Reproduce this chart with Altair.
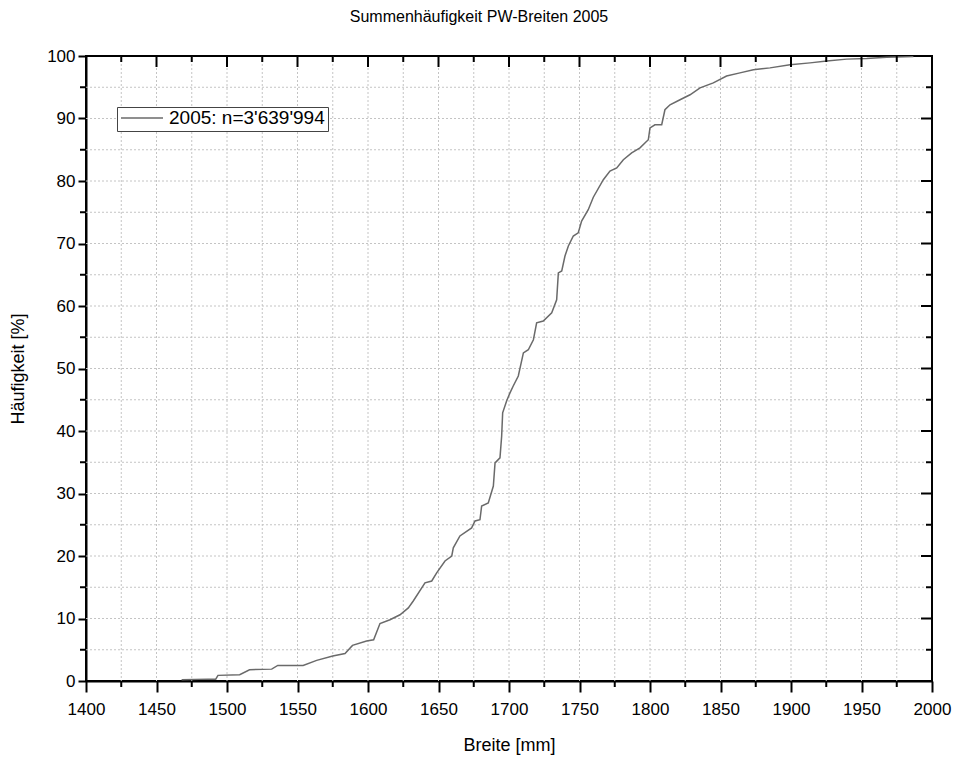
import altair as alt
import pandas as pd

# Cumulative frequency of passenger-car widths (2005)
breite = [
    1467.8, 1486.5, 1492.0, 1493.6, 1509.0, 1516.0, 1531.7, 1536.0, 1554.0, 1563.6,
    1575.0, 1583.7, 1589.0, 1599.0, 1604.0, 1608.5, 1615.6, 1622.7, 1628.6, 1632.1,
    1640.4, 1645.2, 1648.7, 1654.6, 1659.4, 1660.5, 1665.2, 1673.5, 1675.9, 1679.4,
    1680.6, 1685.3, 1688.9, 1690.1, 1693.6, 1694.8, 1695.5, 1698.3, 1700.7, 1703.0,
    1706.6, 1710.2, 1713.7, 1717.3, 1719.6, 1724.3, 1730.3, 1733.8, 1735.0, 1737.4,
    1739.7, 1742.1, 1745.6, 1749.1, 1751.5, 1756.2, 1759.8, 1766.9, 1771.6, 1776.4,
    1781.1, 1787.0, 1792.9, 1798.8, 1800.0, 1803.5, 1808.3, 1810.6, 1814.2, 1821.3,
    1828.4, 1835.5, 1844.9, 1854.3, 1863.8, 1873.3, 1885.1, 1899.3, 1913.5, 1925.3,
    1939.5, 1953.7, 1967.9, 1986.8,
]
haeufigkeit = [
    0.2, 0.3, 0.3, 0.9, 1.0, 1.8, 1.9, 2.5, 2.5, 3.3,
    4.0, 4.4, 5.7, 6.4, 6.6, 9.2, 9.8, 10.6, 11.7, 12.8,
    15.7, 16.0, 17.3, 19.2, 20.0, 21.3, 23.2, 24.5, 25.6, 25.8,
    28.0, 28.5, 31.2, 34.9, 35.7, 39.2, 42.9, 44.8, 46.1, 47.2,
    48.8, 52.5, 53.0, 54.6, 57.3, 57.6, 58.9, 61.0, 65.3, 65.6,
    68.0, 69.6, 71.2, 71.7, 73.6, 75.4, 77.4, 80.2, 81.6, 82.1,
    83.4, 84.5, 85.3, 86.6, 88.5, 89.0, 89.0, 91.4, 92.2, 93.0,
    93.8, 94.9, 95.7, 96.8, 97.3, 97.8, 98.1, 98.6, 98.9, 99.2,
    99.5, 99.6, 99.8, 99.9,
]
serie = "2005: n=3'639'994"

x_major = list(range(1400, 2001, 50))
x_minor = list(range(1425, 2000, 50))
y_major = list(range(0, 101, 10))
y_minor = list(range(5, 100, 10))
x_grid = list(range(1425, 2000, 25))
y_grid = list(range(5, 100, 5))

W, H = 846, 625
FONT = "Liberation Sans"

xs = alt.Scale(domain=[1400, 2000], nice=False, zero=False)
ys = alt.Scale(domain=[0, 100], nice=False)

x_axis = alt.Axis(values=x_major, format="d", title="Breite [mm]", labelFlush=False,
                  tickSize=11, labelPadding=9, titlePadding=19)
y_axis = alt.Axis(values=y_major, format="d", title="Häufigkeit [%]", labelFlush=False,
                  tickSize=8, labelPadding=3, titlePadding=19)

curve_df = pd.DataFrame({"breite": breite, "h": haeufigkeit, "serie": serie})

grid_style = dict(color="#c4c4c4", strokeDash=[2, 2], strokeWidth=1)

vgrid = alt.Chart(pd.DataFrame({"breite": x_grid})).mark_rule(**grid_style).encode(
    x=alt.X("breite:Q", scale=xs, axis=x_axis)
)
hgrid = alt.Chart(pd.DataFrame({"h": y_grid})).mark_rule(**grid_style).encode(
    y=alt.Y("h:Q", scale=ys, axis=y_axis)
)

line = alt.Chart(curve_df).mark_line(strokeWidth=1.5).encode(
    x=alt.X("breite:Q", scale=xs, axis=x_axis),
    y=alt.Y("h:Q", scale=ys, axis=y_axis),
    color=alt.Color(
        "serie:N",
        scale=alt.Scale(range=["#6a6a6a"]),
        legend=alt.Legend(
            title=None, orient="none", legendX=31, legendY=51,
            symbolType="stroke", symbolSize=1764, symbolStrokeWidth=1.5,
            labelFont=FONT, labelFontSize=19, labelColor="black", labelOffset=5,
            strokeColor="#444", fillColor="white", padding=3, clipHeight=16,
        ),
    ),
)

tick_style = dict(color="black", strokeWidth=2)


def xticks(values, y0, y1):
    return alt.Chart(pd.DataFrame({"breite": values})).mark_rule(**tick_style).encode(
        x=alt.X("breite:Q", scale=xs, axis=x_axis), y=alt.value(y0), y2=alt.value(y1)
    )


def yticks(values, x0, x1):
    return alt.Chart(pd.DataFrame({"h": values})).mark_rule(**tick_style).encode(
        y=alt.Y("h:Q", scale=ys, axis=y_axis), x=alt.value(x0), x2=alt.value(x1)
    )


layers = [
    vgrid, hgrid, line,
    xticks(x_minor, H, H + 6),        # bottom minor
    xticks(x_major, 0, 11),           # top major
    xticks(x_minor, 0, 6),            # top minor
    yticks(y_minor, -6, 0),           # left minor
    yticks(y_major, W - 11, W),       # right major
    yticks(y_minor, W - 6, W),        # right minor
]

chart = alt.layer(*layers).properties(
    width=W, height=H,
    background="white",
    autosize=alt.AutoSizeParams(type="none"),
    padding={"left": 86, "top": 56, "right": 24, "bottom": 77},
    title=alt.TitleParams(
        "Summenhäufigkeit PW-Breiten 2005", font=FONT, fontSize=16,
        fontWeight="normal", color="black", anchor="middle", dx=-30, offset=22,
    ),
).configure_view(
    stroke="black", strokeWidth=2
).configure_axis(
    domainColor="black", domainWidth=2, tickColor="black", tickWidth=2,
    labelFont=FONT, labelFontSize=17, labelColor="black",
    titleFont=FONT, titleFontSize=18, titleFontWeight="normal", titleColor="black",
    grid=False,
)

chart.save("out.html", embed_options={"renderer": "svg", "actions": False})
